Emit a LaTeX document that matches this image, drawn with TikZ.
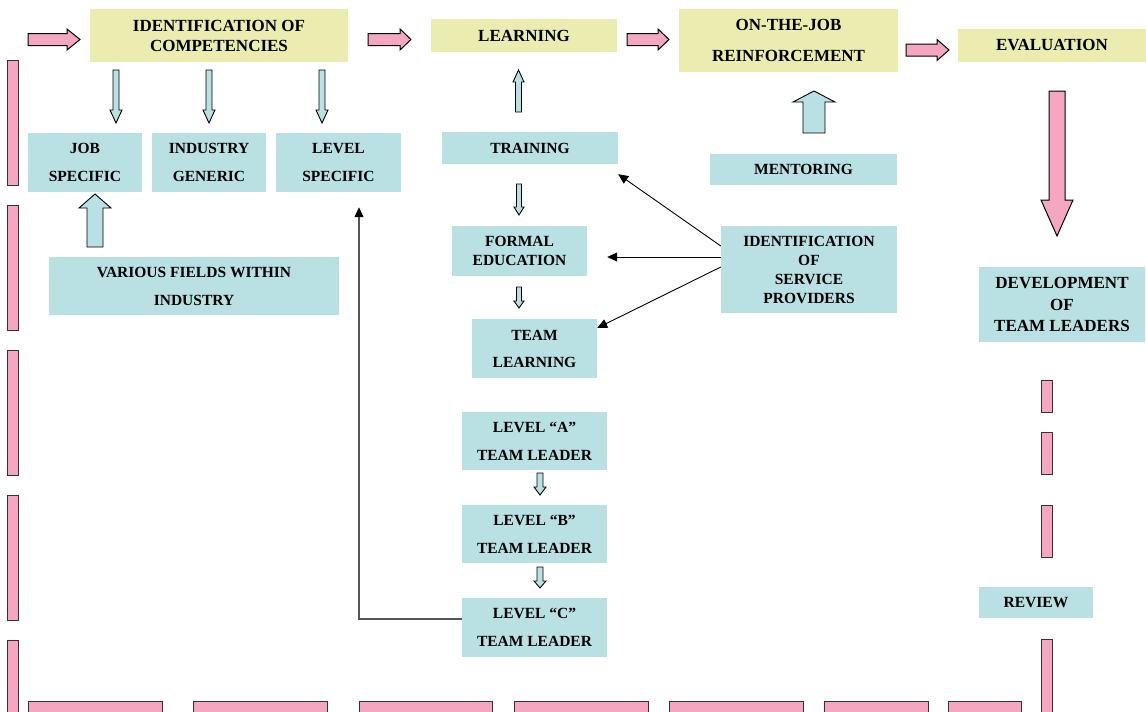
\documentclass[tikz,border=0pt]{standalone}
\usepackage{fontspec}
\setmainfont{Liberation Serif}
\usetikzlibrary{arrows.meta, positioning}
\definecolor{pinkflow}{RGB}{245,166,192}
\definecolor{tealbox}{RGB}{185,224,227}
\definecolor{yellowbox}{RGB}{235,237,176}
\definecolor{greyline}{RGB}{85,85,85}

\begin{document}
\begin{tikzpicture}[x=1pt, y=-1pt,
        ybox/.style={fill=yellowbox, inner sep=0pt, align=center,
                     font=\fontsize{17}{20}\selectfont\bfseries},
        tbox/.style={fill=tealbox, inner sep=0pt, align=center,
                     font=\fontsize{15.5}{28}\selectfont\bfseries},
        tight/.style={font=\fontsize{15.5}{19}\selectfont\bfseries},
        pinkarrow/.style={fill=pinkflow, draw=black, line width=1pt, line join=miter},
        tealarrow/.style={fill=tealbox, draw=black, line width=0.9pt, line join=miter},
        pinkbar/.style={fill=pinkflow, draw=black!80, line width=0.9pt},
        pointer/.style={-{Triangle[length=10pt, width=9pt, color=black]}, line width=0.9pt}
    ]
        \useasboundingbox (0,0) rectangle (1146,712);
        \clip (0,0) rectangle (1146,712);

        % main flow
        \node[ybox, minimum width=258, minimum height=53] (idcomp) at (219,35.5)
            {IDENTIFICATION OF\\COMPETENCIES};
        \node[ybox, minimum width=186, minimum height=33] (learn) at (524,35.5) {LEARNING};
        \node[ybox, minimum width=219, minimum height=63, font=\fontsize{17}{31}\selectfont\bfseries]
            (ojt) at (788.5,40.5) {ON-THE-JOB\\REINFORCEMENT};
        \node[ybox, minimum width=188, minimum height=33] (evalu) at (1052,45.5) {EVALUATION};

        % competencies
        \node[tbox, minimum width=114, minimum height=59] (jobspec) at (85,162.5) {JOB\\SPECIFIC};
        \node[tbox, minimum width=114, minimum height=59] (indgen) at (209,162.5) {INDUSTRY\\GENERIC};
        \node[tbox, minimum width=125, minimum height=59] (levspec) at (338.5,162.5) {LEVEL\\SPECIFIC};
        \node[tbox, minimum width=290, minimum height=58] (various) at (194,286)
            {VARIOUS FIELDS WITHIN\\INDUSTRY};

        % learning
        \node[tbox, minimum width=176, minimum height=32] (training) at (530,148) {TRAINING};
        \node[tbox, tight, minimum width=135, minimum height=50] (formal) at (519.5,251)
            {FORMAL\\EDUCATION};
        \node[tbox, minimum width=125, minimum height=59, font=\fontsize{15.5}{27}\selectfont\bfseries]
            (teaml) at (534.5,348.5) {TEAM\\LEARNING};
        \node[tbox, minimum width=187, minimum height=31] (mentor) at (803.5,169) {MENTORING};
        \node[tbox, tight, minimum width=176, minimum height=87] (servprov) at (809,269.5)
            {IDENTIFICATION\\OF\\SERVICE\\PROVIDERS};

        % team leader levels
        \node[tbox, minimum width=145, minimum height=58] (levA) at (534.5,441) {LEVEL “A”\\TEAM LEADER};
        \node[tbox, minimum width=145, minimum height=58] (levB) at (534.5,534) {LEVEL “B”\\TEAM LEADER};
        \node[tbox, minimum width=145, minimum height=59] (levC) at (534.5,627.5) {LEVEL “C”\\TEAM LEADER};

        \node[tbox, minimum width=166, minimum height=75, font=\fontsize{17}{21.5}\selectfont\bfseries]
            (devtl) at (1062,304.5) {DEVELOPMENT\\OF\\TEAM LEADERS};
        \node[tbox, minimum width=114, minimum height=31] (review) at (1036,602.5) {REVIEW};

        % pink flow arrows
        \foreach \y/\a/\b/\c in {39.5/28/67/80, 39.5/368/400/411, 39.5/627/658/669, 50/906/937/949}
            \draw[pinkarrow] (\a,\y-6) -- (\b,\y-6) -- (\b,\y-10.5) -- (\c,\y)
                -- (\b,\y+10.5) -- (\b,\y+6) -- (\a,\y+6) -- cycle;
        \draw[pinkarrow] (1049,91) -- (1049,200) -- (1041,200) -- (1057,236)
            -- (1073,200) -- (1065,200) -- (1065,91) -- cycle;

        % block arrows: x / tail / head base / tip / half shaft / half head
        \foreach \x/\a/\b/\c/\s/\h in {116/70/110/123/3/6, 209/70/110/123/3/6, 322/70/110/123/3/6,
                95/247/208/194/8/16, 518.5/112/82/70/3/5.5, 814/133/102/91/11/21,
                519/184/207/215/2.5/5, 519/287/301/308/2.5/5,
                540/473/487/495/3/6, 540/567/581/588/3/6}
            \draw[tealarrow] (\x-\s,\a) -- (\x-\s,\b) -- (\x-\h,\b) -- (\x,\c)
                -- (\x+\h,\b) -- (\x+\s,\b) -- (\x+\s,\a) -- cycle;

        % service providers feed the learning modes
        \draw[pointer] ([yshift=23.5pt]servprov.west) -- ([yshift=-10pt]training.south east);
        \draw[pointer] ([yshift=12.5pt]servprov.west) -- ([xshift=20pt, yshift=-6pt]formal.east);
        \draw[pointer] ([yshift=2.5pt]servprov.west) -- ([yshift=20.5pt]teaml.east);
        \draw[pointer, greyline, line width=1.3pt] ([yshift=8.5pt]levC.west)
            -| ([xshift=20.5pt, yshift=-15pt]levspec.south);

        % dashed return loop
        \foreach \a/\b in {60/185, 205/330, 350/475, 495/620, 640/720}
            \draw[pinkbar] (7,\a) rectangle (18,\b);
        \foreach \a/\b in {28/162, 193/327, 359/492, 514/648, 669/803, 824/928, 948/1021}
            \draw[pinkbar] (\a,701) rectangle (\b,720);
        \foreach \a/\b in {380/412, 432/474, 505/557, 639/720}
            \draw[pinkbar] (1041,\a) rectangle (1052,\b);
    \end{tikzpicture}
\end{document}
